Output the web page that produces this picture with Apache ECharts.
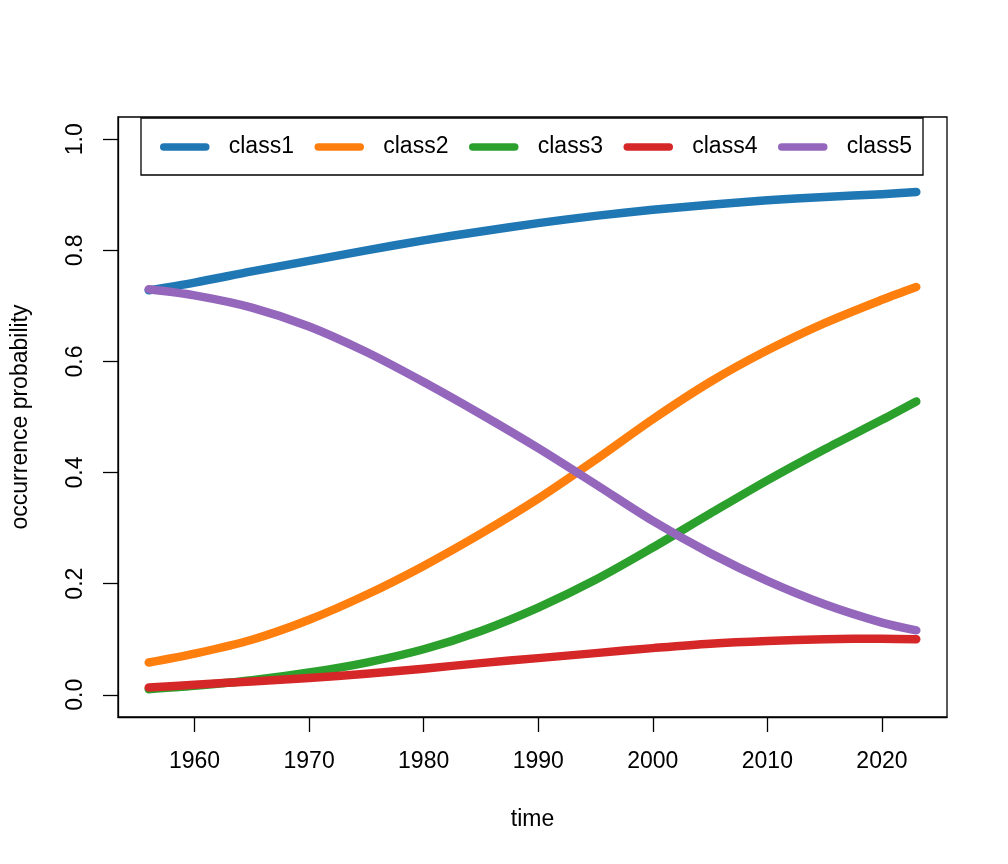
<!DOCTYPE html>
<html>
<head>
<meta charset="utf-8">
<script src="https://cdn.jsdelivr.net/npm/echarts@6/dist/echarts.min.js"></script>
<style>
  html, body { margin: 0; padding: 0; background: #fff; }
  #main { width: 1008px; height: 864px; }
</style>
</head>
<body>
<div id="main"></div>
<script>
(function(){

  'use strict'

  /********************** DATA **********************/
  var years  = [1956, 1960, 1965, 1970, 1975, 1980, 1985, 1990, 1995, 2000, 2005, 2010, 2015, 2020, 2023];
  var class1 = [0.728, 0.742, 0.762, 0.781, 0.800, 0.818, 0.834, 0.849, 0.862, 0.873, 0.882, 0.890, 0.896, 0.901, 0.905];
  var class2 = [0.058, 0.074, 0.099, 0.135, 0.180, 0.232, 0.290, 0.353, 0.423, 0.496, 0.563, 0.620, 0.669, 0.711, 0.734];
  var class3 = [0.010, 0.016, 0.026, 0.040, 0.058, 0.082, 0.115, 0.157, 0.207, 0.265, 0.326, 0.386, 0.442, 0.495, 0.528];
  var class4 = [0.013, 0.018, 0.024, 0.030, 0.038, 0.047, 0.057, 0.066, 0.075, 0.084, 0.092, 0.097, 0.100, 0.101, 0.100];
  var class5 = [0.730, 0.719, 0.697, 0.663, 0.617, 0.563, 0.505, 0.444, 0.379, 0.313, 0.255, 0.205, 0.163, 0.130, 0.116];

  var names  = ['class1', 'class2', 'class3', 'class4', 'class5'];
  var values = [class1, class2, class3, class4, class5];
  var colors = ['#1f77b4', '#ff7f0e', '#2ca02c', '#d62728', '#9467bd'];

  var xTicks = [1960, 1970, 1980, 1990, 2000, 2010, 2020];
  var yTicks = [0, 0.2, 0.4, 0.6, 0.8, 1.0];

  var font = 'Liberation Sans, Arial, Helvetica, sans-serif';
  var fs = 23;

  /********************* SERIES *********************/
  var series = names.map(function(name, i){
    return {
      name: name,
      type: 'line',
      smooth: 0.3,
      symbol: 'none',
      color: colors[i],
      lineStyle: { width: 8.5, color: colors[i], cap: 'round', join: 'round' },
      data: years.map(function(y, j){ return [y, values[i][j]]; })
    };
  });

  var chart = echarts.init(document.getElementById('main'), null, { renderer: 'canvas' });

  var option = {
    backgroundColor: '#fff',
    animation: false,
    grid: {
      left: 118,
      right: 61,
      top: 117,
      bottom: 147,
      show: true,
      borderColor: '#000',
      borderWidth: 1.3,
      containLabel: false
    },
    legend: {
      data: names,
      left: 160,
      top: 135,
      padding: 0,
      itemWidth: 42,
      itemHeight: 14,
      itemGap: 19.75,
      itemStyle: { color: 'rgba(0,0,0,0)', borderWidth: 0 },
      lineStyle: { width: 7.5, cap: 'round' },
      textStyle: {
        fontFamily: font, fontSize: fs, color: '#000',
        padding: [0, 0, 0, 18], lineHeight: 24,
        width: 66, overflow: 'none'
      },
      selectedMode: false
    },
    graphic: [{
      type: 'rect',
      shape: { x: 141, y: 118, width: 782, height: 57 },
      style: { fill: 'none', stroke: '#000', lineWidth: 1.3 },
      z: 5
    }],
    xAxis: {
      type: 'value',
      min: 1953.32,
      max: 2025.68,
      name: 'time',
      nameLocation: 'middle',
      nameGap: 91,
      nameTextStyle: { fontFamily: font, fontSize: fs, color: '#000' },
      axisLine: { show: true, onZero: false, lineStyle: { color: '#000', width: 1.3 } },
      axisTick: {
        show: true, length: 15, customValues: xTicks,
        lineStyle: { color: '#000', width: 1.3 }
      },
      axisLabel: {
        customValues: xTicks, margin: 33,
        fontFamily: font, fontSize: fs, color: '#000',
        formatter: function(v){ return String(v); }
      },
      splitLine: { show: false }
    },
    yAxis: {
      type: 'value',
      min: -0.04,
      max: 1.04,
      name: 'occurrence probability',
      nameLocation: 'middle',
      nameGap: 86,
      nameRotate: 90,
      nameTextStyle: { fontFamily: font, fontSize: fs, color: '#000' },
      axisLine: { show: true, onZero: false, lineStyle: { color: '#000', width: 1.3 } },
      axisTick: {
        show: true, length: 15, customValues: yTicks,
        lineStyle: { color: '#000', width: 1.3 }
      },
      axisLabel: {
        customValues: yTicks, margin: 31, rotate: 90,
        fontFamily: font, fontSize: fs, color: '#000',
        formatter: function(v){ return v.toFixed(1); }
      },
      splitLine: { show: false }
    },
    series: series
  };

  chart.setOption(option);

})();
</script>
</body>
</html>
